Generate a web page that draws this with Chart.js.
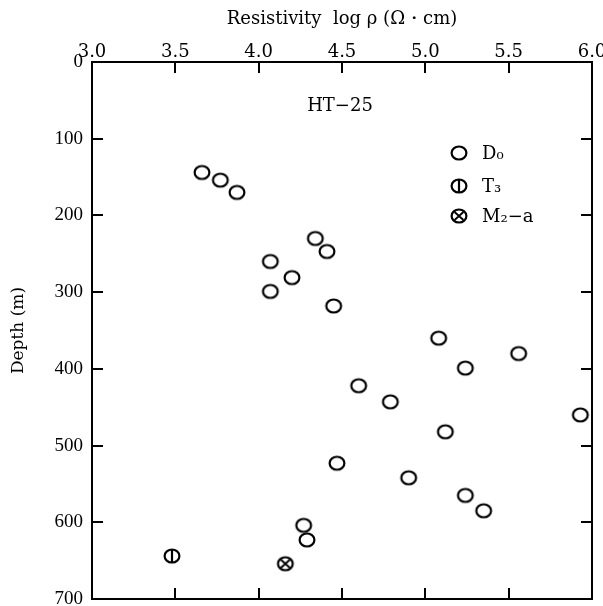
<!DOCTYPE html>
<html>
<head>
<meta charset="utf-8">
<script src="https://cdn.jsdelivr.net/npm/chart.js@4.4.1/dist/chart.umd.min.js"></script>
<style>
  body { margin: 0; background: #fff; }
  #wrap { width: 603px; height: 606px; }
</style>
</head>
<body>
<div id="wrap"><canvas id="resistivityChart"></canvas></div>
<script>
// Data (log resistivity vs depth)
const d0Resistivity = [3.66, 3.77, 3.87, 4.34, 4.41, 4.07, 4.20, 4.07, 4.45, 5.08, 5.56,
    5.24, 4.60, 4.79, 5.93, 5.12, 4.47, 4.90, 5.24, 5.35, 4.27, 4.29];
const d0Depth = [144, 154, 170, 230, 247, 260, 281, 299, 318, 360, 380,
    399, 422, 443, 460, 482, 523, 542, 565, 585, 604, 623];
const t3Resistivity = [3.48];
const t3Depth = [644];
const m2Resistivity = [4.16];
const m2Depth = [654];

const seriesLabels = ['D₀', 'T₃', 'M₂−a'];
const xTicks = [3.0, 3.5, 4.0, 4.5, 5.0, 5.5, 6.0];
const yTicks = [0, 100, 200, 300, 400, 500, 600, 700];
const boreholeName = 'HT−25';

const ink = '#000';

// Build the little marker images (open circle, circle with bar, circle with cross)
function makeMarker(kind) {
    const c = document.createElement('canvas');
    c.width = 20;
    c.height = 18;
    const g = c.getContext('2d');
    g.strokeStyle = ink;
    g.lineWidth = 2.2;
    g.beginPath();
    g.ellipse(10, 9, 7.4, 6.5, 0, 0, Math.PI * 2);
    g.stroke();
    if (kind === 'bar') {
        g.beginPath();
        g.moveTo(10, 2.5);
        g.lineTo(10, 15.5);
        g.stroke();
    }
    if (kind === 'cross') {
        g.lineWidth = 1.9;
        g.beginPath();
        g.moveTo(5.6, 5.0); g.lineTo(14.4, 13.0);
        g.moveTo(14.4, 5.0); g.lineTo(5.6, 13.0);
        g.stroke();
    }
    return c;
}

const markers = [makeMarker('open'), makeMarker('bar'), makeMarker('cross')];

function toPoints(xs, ys) {
    return xs.map((x, i) => ({ x: x, y: ys[i] }));
}

// Frame, inward ticks, borehole name and legend
const framePlugin = {
    id: 'framePlugin',
    afterDraw(chart) {
        const ctx = chart.ctx;
        const a = chart.chartArea;
        const xs = chart.scales.x;
        const ys = chart.scales.y;
        const tl = 11;
        ctx.save();
        ctx.strokeStyle = ink;
        ctx.lineWidth = 2;
        ctx.strokeRect(a.left, a.top, a.right - a.left, a.bottom - a.top);
        ctx.beginPath();
        xTicks.slice(1, -1).forEach(v => {
            const px = Math.round(xs.getPixelForValue(v));
            ctx.moveTo(px, a.top); ctx.lineTo(px, a.top + tl);
            ctx.moveTo(px, a.bottom); ctx.lineTo(px, a.bottom - tl);
        });
        yTicks.slice(1, -1).forEach(v => {
            const py = Math.round(ys.getPixelForValue(v));
            ctx.moveTo(a.left, py); ctx.lineTo(a.left + tl, py);
            ctx.moveTo(a.right, py); ctx.lineTo(a.right - tl, py);
        });
        ctx.stroke();

        ctx.fillStyle = ink;
        ctx.font = '18px "DejaVu Serif"';
        ctx.textAlign = 'center';
        ctx.textBaseline = 'middle';
        ctx.fillText(boreholeName, a.left + 248, a.top + 44);

        // legend
        ctx.textAlign = 'left';
        const lx = a.left + 367;
        const rows = [a.top + 91, a.top + 124, a.top + 154];
        chart.data.datasets.forEach((ds, i) => {
            const m = ds.pointStyle;
            ctx.drawImage(m, lx - m.width / 2, rows[i] - m.height / 2);
            ctx.fillText(ds.label, lx + 23, rows[i] + 1);
        });
        ctx.restore();
    }
};

const ctx = document.getElementById('resistivityChart').getContext('2d');

new Chart(ctx, {
    type: 'scatter',
    data: {
        datasets: [
            { label: seriesLabels[0], data: toPoints(d0Resistivity, d0Depth), pointStyle: markers[0] },
            { label: seriesLabels[1], data: toPoints(t3Resistivity, t3Depth), pointStyle: markers[1] },
            { label: seriesLabels[2], data: toPoints(m2Resistivity, m2Depth), pointStyle: markers[2] }
        ]
    },
    options: {
        responsive: true,
        maintainAspectRatio: false,
        animation: false,
        layout: { padding: { top: 0, left: 0, right: 11, bottom: 7 } },
        plugins: {
            legend: { display: false },
            tooltip: { enabled: false }
        },
        scales: {
            x: {
                type: 'linear',
                position: 'top',
                min: 3,
                max: 6,
                grid: { display: false, drawTicks: false },
                border: { display: false },
                ticks: {
                    stepSize: 0.5,
                    padding: -1,
                    color: ink,
                    font: { family: '"DejaVu Serif"', size: 18 },
                    callback: v => Number(v).toFixed(1)
                },
                title: {
                    display: true,
                    text: 'Resistivity  log ρ (Ω・cm)',
                    color: ink,
                    font: { family: '"DejaVu Serif"', size: 18 },
                    padding: { top: 9, bottom: 0 }
                },
                afterFit(scale) {
                    scale.height = 62;
                    scale.paddingLeft = 0;
                    scale.paddingRight = 0;
                }
            },
            y: {
                type: 'linear',
                position: 'left',
                reverse: true,
                min: 0,
                max: 700,
                grid: { display: false, drawTicks: false },
                border: { display: false },
                ticks: {
                    stepSize: 100,
                    padding: 9,
                    color: ink,
                    font: { family: '"Liberation Serif"', size: 19 }
                },
                title: {
                    display: true,
                    text: 'Depth (m)',
                    color: ink,
                    font: { family: '"DejaVu Serif"', size: 17 },
                    padding: { top: 8, bottom: 0 }
                },
                afterFit(scale) {
                    scale.width = 92;
                    scale.paddingTop = 0;
                    scale.paddingBottom = 0;
                }
            }
        }
    },
    plugins: [framePlugin]
});
</script>
</body>
</html>
